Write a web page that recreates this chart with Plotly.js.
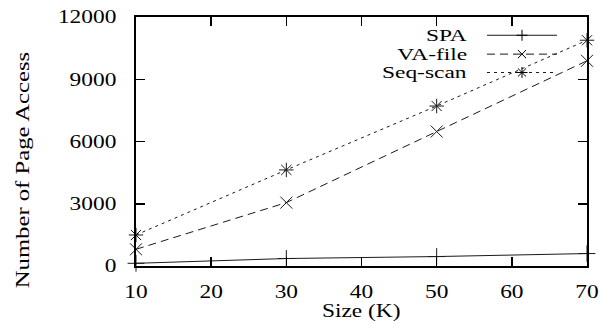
<!DOCTYPE html>
<html>
<head>
<meta charset="utf-8">
<script src="https://cdn.plot.ly/plotly-3.0.1.min.js"></script>
<style>html,body{margin:0;padding:0;background:#fff;}#chart{width:600px;height:323px;}</style>
</head>
<body>
<div id="chart"></div>
<script>
// Data
const sizes = [10, 30, 50, 70];
const spa = [130, 360, 455, 600];
const vaFile = [805, 3055, 6480, 9890];
const seqScan = [1495, 4630, 7710, 10880];
const seriesNames = ['SPA', 'VA-file', 'Seq-scan'];
const xTicks = [10, 20, 30, 40, 50, 60, 70];
const yTicks = [0, 3000, 6000, 9000, 12000];
const xTitle = 'Size (K)';
const yTitle = 'Number of Page Access';

const FONT = 'Liberation Serif';
const FS = 18;
const LEG_FS = 16.5;
const STRETCH = 1.3;
const LEG_STRETCH = 1.42;
const styles = [
  {dash: 'solid', symbol: 'cross-thin-open', color: '#1a1a1a'},
  {dash: '8px,5px', symbol: 'x-thin-open', color: '#1a1a1a'},
  {dash: '3px,4px', symbol: 'asterisk-open', color: '#1a1a1a'}
];
const seriesValues = [spa, vaFile, seqScan];

const traces = seriesValues.map((vals, i) => ({
  x: sizes, y: vals, name: seriesNames[i], type: 'scatter', mode: 'lines+markers',
  cliponaxis: false,
  line: {color: styles[i].color, width: 1, dash: styles[i].dash},
  marker: {symbol: styles[i].symbol, size: 12, color: styles[i].color, line: {width: 1, color: styles[i].color}}
}));

const plotL = 136, plotR = 587, plotT = 17, plotB = 266.5;
function px(x){ return (x - plotL) / (plotR - plotL); }
function py(y){ return (plotB - y) / (plotB - plotT); }

// Manual legend (text left of the sample, as in the reference)
const shapes = [];
const annotations = [];
const lx0 = 487, lx1 = 557, lxm = 522;
const rowY = [35.3, 54.2, 72.6];
const ms = 5.5;
rowY.forEach((ry, i) => {
  annotations.push({xref: 'paper', yref: 'paper', x: px(468), y: py(ry), xanchor: 'right', yanchor: 'middle',
    text: seriesNames[i], showarrow: false, borderpad: 0, font: {family: FONT, size: LEG_FS, color: '#000'}});
  shapes.push({type: 'line', xref: 'paper', yref: 'paper', x0: px(lx0), x1: px(lx1), y0: py(ry), y1: py(ry),
    line: {color: styles[i].color, width: 1, dash: styles[i].dash}});
  const addLine = (dx0, dy0, dx1, dy1) => shapes.push({type: 'line', xref: 'paper', yref: 'paper',
    x0: px(lxm + dx0), x1: px(lxm + dx1), y0: py(ry + dy0), y1: py(ry + dy1), line: {color: '#000', width: 1}});
  if (i === 0 || i === 2) { addLine(-ms, 0, ms, 0); addLine(0, -ms, 0, ms); }
  if (i === 1 || i === 2) { addLine(-ms*0.75, -ms*0.75, ms*0.75, ms*0.75); addLine(-ms*0.75, ms*0.75, ms*0.75, -ms*0.75); }
});

// Axis titles placed as annotations for exact placement
annotations.push({xref: 'paper', yref: 'paper', x: px(360.5), y: py(312), xanchor: 'center', yanchor: 'middle',
  text: xTitle, showarrow: false, borderpad: 0, font: {family: FONT, size: FS, color: '#000'}});
annotations.push({xref: 'paper', yref: 'paper', x: px(22.5), y: py(143.5), xanchor: 'center', yanchor: 'middle',
  textangle: -90, text: yTitle, showarrow: false, font: {family: FONT, size: 19, color: '#000'}});

const layout = {
  width: 600, height: 323,
  margin: {l: 136, r: 13, t: 17, b: 56.5},
  paper_bgcolor: '#fff', plot_bgcolor: '#fff',
  showlegend: false,
  font: {family: FONT, size: FS, color: '#000'},
  xaxis: {
    range: [10, 70], tickvals: xTicks, ticktext: xTicks.map(String),
    showgrid: false, zeroline: false,
    showline: true, mirror: 'ticks', linecolor: '#000', linewidth: 2,
    ticks: 'inside', ticklen: 9, tickwidth: 1.5, tickcolor: '#000',
    ticklabelstandoff: 8,
    tickfont: {family: FONT, size: FS}
  },
  yaxis: {
    range: [0, 12000], tickvals: yTicks, ticktext: yTicks.map(String),
    showgrid: false, zeroline: false,
    showline: true, mirror: 'ticks', linecolor: '#000', linewidth: 2,
    ticks: 'inside', ticklen: 9, tickwidth: 1.5, tickcolor: '#000',
    ticklabelstandoff: 14,
    tickfont: {family: FONT, size: FS}
  },
  shapes: shapes,
  annotations: annotations
};

// The reference text is horizontally stretched; reproduce that on the real SVG text.
function stretch(el, s, mode) {
  const r = el.getBoundingClientRect();
  const sx = mode === 'right' ? r.right : (r.left + r.right) / 2;
  const svg = el.ownerSVGElement;
  const pm = el.parentNode.getScreenCTM();
  const pt = svg.createSVGPoint(); pt.x = sx; pt.y = r.top;
  const lp = pt.matrixTransform(pm.inverse());
  const old = el.getAttribute('transform') || '';
  el.setAttribute('transform', 'translate(' + lp.x + ',0) scale(' + s + ',1) translate(' + (-lp.x) + ',0) ' + old);
}

Plotly.newPlot('chart', traces, layout, {staticPlot: true, displayModeBar: false}).then(gd => {
  try {
    gd.querySelectorAll('.ytick text').forEach(t => stretch(t, STRETCH, 'right'));
    gd.querySelectorAll('.xtick text').forEach(t => stretch(t, STRETCH, 'center'));
    gd.querySelectorAll('.annotation-text').forEach(t => {
      const txt = t.textContent;
      if (seriesNames.indexOf(txt) >= 0) stretch(t, LEG_STRETCH, 'right');
      else if (txt === yTitle) stretch(t, 1.3, 'center');
      else stretch(t, STRETCH, 'center');
    });
  } catch (e) { console.error(e); }
});
</script>
</body>
</html>
